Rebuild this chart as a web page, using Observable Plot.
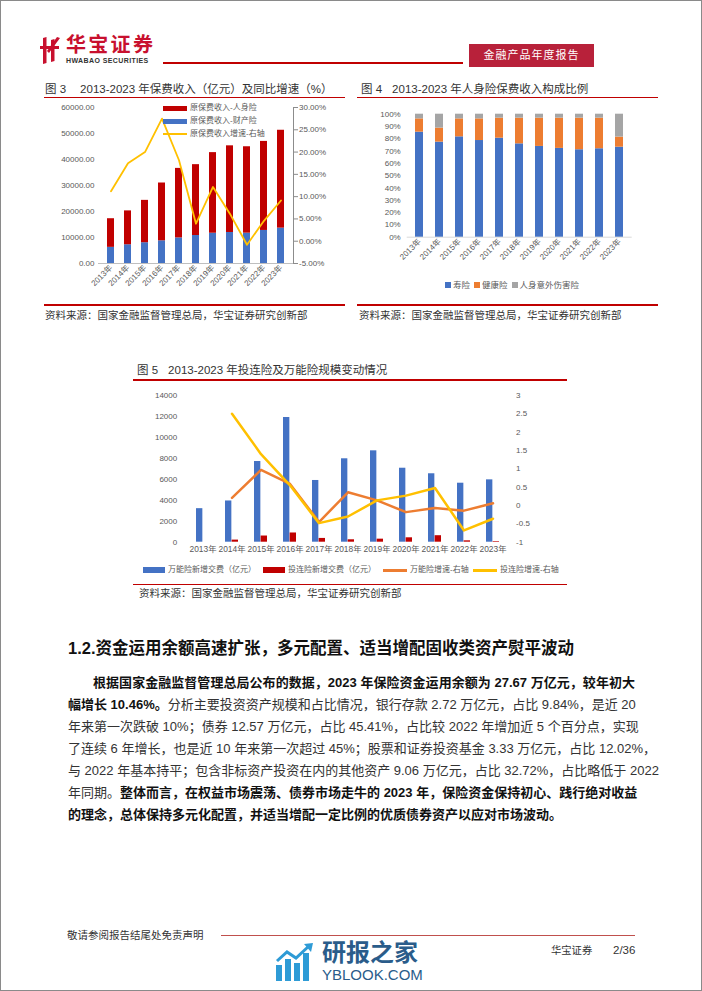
<!DOCTYPE html>
<html><head><meta charset="utf-8">
<script src="https://cdn.jsdelivr.net/npm/d3@7"></script>
<script src="https://cdn.jsdelivr.net/npm/@observablehq/plot@0.6"></script>
<style>
html,body{margin:0;padding:0;background:#fff}
body{width:702px;height:991px;position:relative;overflow:hidden;font-family:"Liberation Sans","Noto Sans CJK SC",sans-serif;color:#222}
.abs{position:absolute;white-space:nowrap}
.redline{position:absolute;background:#C00000}
.ttl{font-size:11.5px;color:#333;line-height:14px}
.src{font-size:10.5px;color:#333;line-height:13px}
.leg{font-size:8px;color:#595959;line-height:10px}
.para{position:absolute;left:68px;width:567px;font-size:13px;line-height:16px;text-align:justify;text-align-last:justify;white-space:nowrap;color:#333}
.para b{color:#111}
</style></head><body>
<div class="abs" style="left:0;top:0;width:700px;height:989px;border:1px solid #8a8a8a"></div>

<!-- header -->
<svg class="abs" style="left:40px;top:37px" width="20" height="27" viewBox="0 0 20 27">
  <polygon points="3,1 6.5,0 6.5,26 3,27" fill="#C8102E"/>
  <polygon points="11,3 14.5,2 14.5,24 11,25" fill="#C8102E"/>
  <rect x="0" y="9" width="19" height="3" fill="#C8102E"/>
  <polygon points="17,0 20,1 9,16 7,14" fill="#C8102E"/>
</svg>
<div class="abs" style="left:66px;top:35px;font-size:20px;font-weight:bold;color:#C8102E;letter-spacing:2.3px;line-height:20px">华宝证券</div>
<div class="abs" style="left:66px;top:57px;font-size:7px;font-weight:bold;color:#333;letter-spacing:0.4px;line-height:7px">HWABAO SECURITIES</div>
<div class="redline" style="left:163px;top:62px;width:300px;height:1.5px"></div>
<div class="abs" style="left:469px;top:44px;width:125px;height:23px;background:#B8213A;color:#fff;font-size:11px;line-height:23px;text-align:center;letter-spacing:1px">金融产品年度报告</div>

<!-- chart 3 -->
<div class="abs ttl" style="left:45px;top:82px"><span style="margin-right:14px">图 3</span>2013-2023 年保费收入（亿元）及同比增速（%）</div>
<div class="redline" style="left:44px;top:96.5px;width:301px;height:1.7px"></div>
<div id="c3" class="abs" style="left:55px;top:100px"></div>
<div class="abs" style="left:163px;top:105.5px;width:24px;height:5px;background:#C00000"></div>
<div class="abs" style="left:163px;top:118.5px;width:24px;height:5px;background:#4472C4"></div>
<div class="abs" style="left:163px;top:133px;width:24px;height:2px;background:#FFC000"></div>
<div class="abs leg" style="left:190px;top:103px">原保费收入-人身险</div>
<div class="abs leg" style="left:190px;top:116px">原保费收入-财产险</div>
<div class="abs leg" style="left:190px;top:129px">原保费收入增速-右轴</div>
<div class="redline" style="left:44px;top:304px;width:301px;height:1.7px"></div>
<div class="abs src" style="left:45px;top:309px">资料来源：国家金融监督管理总局，华宝证券研究创新部</div>

<!-- chart 4 -->
<div class="abs ttl" style="left:361px;top:82px"><span style="margin-right:10px">图 4</span>2013-2023 年人身险保费收入构成比例</div>
<div class="redline" style="left:357px;top:96.5px;width:301px;height:1.7px"></div>
<div id="c4" class="abs" style="left:355px;top:100px"></div>
<div class="abs leg" style="left:445px;top:280px;display:flex;align-items:center;font-size:8.5px">
  <span style="width:6px;height:6px;background:#4472C4;margin-right:2px"></span><span style="margin-right:4px">寿险</span>
  <span style="width:6px;height:6px;background:#ED7D31;margin-right:2px"></span><span style="margin-right:4px">健康险</span>
  <span style="width:6px;height:6px;background:#A5A5A5;margin-right:2px"></span><span>人身意外伤害险</span>
</div>
<div class="redline" style="left:357px;top:304px;width:301px;height:1.7px"></div>
<div class="abs src" style="left:359px;top:309px">资料来源：国家金融监督管理总局，华宝证券研究创新部</div>

<!-- chart 5 -->
<div class="abs ttl" style="left:137px;top:363px"><span style="margin-right:10px">图 5</span>2013-2023 年投连险及万能险规模变动情况</div>
<div class="redline" style="left:133px;top:379px;width:434px;height:1.7px"></div>
<div id="c5" class="abs" style="left:140px;top:385px"></div>
<div class="abs" style="left:143px;top:567px;width:22px;height:6px;background:#4472C4"></div>
<div class="abs leg" style="left:168px;top:565px">万能险新增交费（亿元）</div>
<div class="abs" style="left:263px;top:567px;width:22px;height:6px;background:#C00000"></div>
<div class="abs leg" style="left:288px;top:565px">投连险新增交费（亿元）</div>
<div class="abs" style="left:383px;top:569px;width:24px;height:2.5px;background:#ED7D31"></div>
<div class="abs leg" style="left:410px;top:565px">万能险增速-右轴</div>
<div class="abs" style="left:473px;top:569px;width:24px;height:2.5px;background:#FFC000"></div>
<div class="abs leg" style="left:500px;top:565px">投连险增速-右轴</div>
<div class="redline" style="left:133px;top:583.5px;width:434px;height:1.7px"></div>
<div class="abs src" style="left:139px;top:587px">资料来源：国家金融监督管理总局，华宝证券研究创新部</div>

<!-- section text -->
<div class="abs" style="left:68px;top:638px;font-size:16.5px;font-weight:bold;color:#111;line-height:20px">1.2.资金运用余额高速扩张，多元配置、适当增配固收类资产熨平波动</div>
<div class="para" style="left:93px;width:542px;top:675px"><b>根据国家金融监督管理总局公布的数据，2023 年保险资金运用余额为 27.67 万亿元，较年初大</b></div>
<div class="para" style="top:697px"><b>幅增长 10.46%。</b>分析主要投资资产规模和占比情况，银行存款 2.72 万亿元，占比 9.84%，是近 20</div>
<div class="para" style="top:719px">年来第一次跌破 10%；债券 12.57 万亿元，占比 45.41%，占比较 2022 年增加近 5 个百分点，实现</div>
<div class="para" style="top:741px">了连续 6 年增长，也是近 10 年来第一次超过 45%；股票和证券投资基金 3.33 万亿元，占比 12.02%，</div>
<div class="para" style="top:763px">与 2022 年基本持平；包含非标资产投资在内的其他资产 9.06 万亿元，占比 32.72%，占比略低于 2022</div>
<div class="para" style="top:785px">年同期。<b>整体而言，在权益市场震荡、债券市场走牛的 2023 年，保险资金保持初心、践行绝对收益</b></div>
<div class="para" style="top:807px;text-align:left;text-align-last:left"><b>的理念，总体保持多元化配置，并适当增配一定比例的优质债券资产以应对市场波动。</b></div>

<!-- footer -->
<div class="abs" style="left:67px;top:929px;font-size:10.5px;color:#333;line-height:13px">敬请参阅报告结尾处免责声明</div>
<div class="abs" style="left:221px;top:934.5px;width:414px;height:1px;background:#C0504D"></div>
<div class="abs" style="left:551px;top:944px;font-size:10.3px;color:#333;line-height:13px">华宝证券</div>
<div class="abs" style="left:613px;top:943px;font-size:11.5px;color:#333;line-height:14px">2/36</div>
<svg class="abs" style="left:275px;top:943px" width="40" height="38" viewBox="0 0 40 38">
  <rect x="1" y="22" width="6" height="16" fill="#2E9BD6"/>
  <rect x="10" y="16" width="6" height="22" fill="#2E9BD6"/>
  <rect x="19" y="20" width="6" height="18" fill="#2E9BD6"/>
  <rect x="28" y="10" width="6" height="28" fill="#2E9BD6"/>
  <polyline points="2,18 12,9 21,15 34,3" fill="none" stroke="#2E9BD6" stroke-width="3"/>
  <polygon points="29,1 38,0 36,9" fill="#2E9BD6"/>
</svg>
<div class="abs" style="left:322px;top:941px;font-size:24px;font-weight:bold;color:#2A5C8A;line-height:24px">研报之家</div>
<div class="abs" style="left:322px;top:967px;font-size:15px;color:#2A5C8A;line-height:15px">YBLOOK.COM</div>

<script>
const years = ["2013年","2014年","2015年","2016年","2017年","2018年","2019年","2020年","2021年","2022年","2023年"];

// 图3 原保费收入（亿元）及增速（%）
const lifePremium = [11010,13031,16288,22235,26746,27247,30995,33329,33229,34245,37640];
const propertyPremium = [6212,7203,7995,8725,9835,10770,11649,11929,11671,12712,13607];
const premiumGrowth = [11.2,17.49,20.0,27.5,18.16,3.92,12.17,6.12,-0.79,4.58,9.13];
const leftTicks3 = [0,10000,20000,30000,40000,50000,60000];
const rightTicks3 = [-5,0,5,10,15,20,25,30];

// 图4 人身险保费收入构成（%）
const lifeShare = [85.4,77.3,81.6,78.6,80.5,75.9,73.8,72.2,71.1,71.9,73.2];
const healthShare = [10.8,11.4,14.6,17.6,16.3,20.9,23.0,24.6,25.7,24.9,8.2];
const accidentShare = [3.8,11.3,3.8,3.8,3.2,3.2,3.2,3.2,3.2,3.2,18.6];
const shareTicks = [0,10,20,30,40,50,60,70,80,90,100];

// 图5 投连险及万能险
const ulNew = [3200,3935,7700,11900,5890,7960,8720,7060,6530,5630,5950];
const ilNew = [0,200,590,880,360,230,290,420,620,130,60];
const ulGrowth = [null,0.21,0.97,0.59,-0.45,0.36,0.14,-0.18,-0.07,-0.14,0.06];
const ilGrowth = [null,2.5,1.4,0.55,-0.48,-0.3,0.14,0.27,0.48,-0.68,-0.36];
const leftTicks5 = [0,2000,4000,6000,8000,10000,12000,14000];
const rightTicks5 = [-1,-0.5,0,0.5,1,1.5,2,2.5,3];

const FONT = '"Liberation Sans","Noto Sans CJK SC",sans-serif';
const baseStyle = {fontFamily: FONT, fontSize: "8px", color: "#595959", background: "transparent", overflow: "visible"};

// ---- chart 3
const g3 = v => (v + 5) / 35 * 60000;
const g3inv = v => { const r = Math.round((v / 60000 * 35 - 5) * 100) / 100; return (r === 0 ? 0 : r).toFixed(2) + "%"; };
const rows3 = years.flatMap((y, i) => [
  {year: y, type: "财产险", value: propertyPremium[i]},
  {year: y, type: "人身险", value: lifePremium[i]}
]);
const growth3 = years.map((y, i) => ({year: y, g: premiumGrowth[i]}));
const c3 = Plot.plot({
  width: 290, height: 205, marginLeft: 43, marginRight: 52, marginTop: 7, marginBottom: 42,
  style: baseStyle,
  x: {domain: years, paddingInner: 0.58, paddingOuter: 0.33, label: null},
  y: {domain: [0, 60000], label: null},
  color: {domain: ["财产险", "人身险"], range: ["#4472C4", "#C00000"]},
  marks: [
    Plot.ruleY([0], {stroke: "#BFBFBF"}),
    Plot.barY(rows3, {x: "year", y: "value", fill: "type"}),
    Plot.line(growth3, {x: "year", y: d => g3(d.g), stroke: "#FFC000", strokeWidth: 1.8}),
    Plot.axisY(leftTicks3, {tickSize: 0, tickPadding: 4, tickFormat: d => d.toFixed(2), label: null}),
    Plot.axisY(rightTicks3.map(g3), {anchor: "right", tickSize: 4, tickPadding: 1.5, stroke: "#8C8C8C", tickFormat: g3inv, label: null}),
    Plot.frame({anchor: "right", stroke: "#8C8C8C"}),
    Plot.axisX({tickRotate: -45, tickSize: 0, tickPadding: 3, label: null})
  ]
});
document.getElementById("c3").appendChild(c3);

// ---- chart 4
const rows4 = years.flatMap((y, i) => [
  {year: y, type: "寿险", value: lifeShare[i]},
  {year: y, type: "健康险", value: healthShare[i]},
  {year: y, type: "人身意外伤害险", value: accidentShare[i]}
]);
const c4 = Plot.plot({
  width: 290, height: 180, marginLeft: 51.7, marginRight: 13.3, marginTop: 13.7, marginBottom: 43.3,
  style: baseStyle,
  x: {domain: years, paddingInner: 0.61, paddingOuter: 0.27, label: null},
  y: {domain: [0, 100], label: null},
  color: {domain: ["寿险", "健康险", "人身意外伤害险"], range: ["#4472C4", "#ED7D31", "#A5A5A5"]},
  marks: [
    Plot.ruleY([0], {stroke: "#D9D9D9"}),
    Plot.barY(rows4, {x: "year", y: "value", fill: "type"}),
    Plot.axisY(shareTicks, {tickSize: 0, tickPadding: 6.5, tickFormat: d => d + "%", label: null}),
    Plot.axisX({tickRotate: -45, tickSize: 0, tickPadding: 3, label: null})
  ]
});
document.getElementById("c4").appendChild(c4);

// ---- chart 5
const g5 = v => (v + 1) / 4 * 14000;
const g5inv = v => { const r = Math.round((v / 14000 * 4 - 1) * 10) / 10; return String(r === 0 ? 0 : r); };
const ulRows = years.map((y, i) => ({year: y, value: ulNew[i]}));
const ilRows = years.map((y, i) => ({year: y, value: ilNew[i]})).filter(d => d.value > 0);
const ulG = years.map((y, i) => ({year: y, g: ulGrowth[i]})).filter(d => d.g != null);
const ilG = years.map((y, i) => ({year: y, g: ilGrowth[i]})).filter(d => d.g != null);
const c5 = Plot.plot({
  width: 395, height: 180, marginLeft: 42.7, marginRight: 23.4, marginTop: 10, marginBottom: 23.3,
  style: baseStyle,
  x: {domain: years, paddingInner: 0.555, paddingOuter: 0.28, label: null},
  y: {domain: [0, 14000], label: null},
  marks: [
    Plot.barY(ulRows, {x: "year", y: "value", fill: "#4472C4", insetRight: 6.65}),
    Plot.barY(ilRows, {x: "year", y: "value", fill: "#C00000", insetLeft: 6.65}),
    Plot.line(ulG, {x: "year", y: d => g5(d.g), stroke: "#ED7D31", strokeWidth: 2.5}),
    Plot.line(ilG, {x: "year", y: d => g5(d.g), stroke: "#FFC000", strokeWidth: 2.5}),
    Plot.axisY(leftTicks5, {tickSize: 0, tickPadding: 6, tickFormat: d => String(d), label: null}),
    Plot.axisY(rightTicks5.map(g5), {anchor: "right", tickSize: 0, tickPadding: 4, tickFormat: g5inv, label: null}),
    Plot.axisX({tickSize: 0, tickPadding: 4, fontSize: 8.4, label: null})
  ]
});
document.getElementById("c5").appendChild(c5);
</script>
</body></html>
